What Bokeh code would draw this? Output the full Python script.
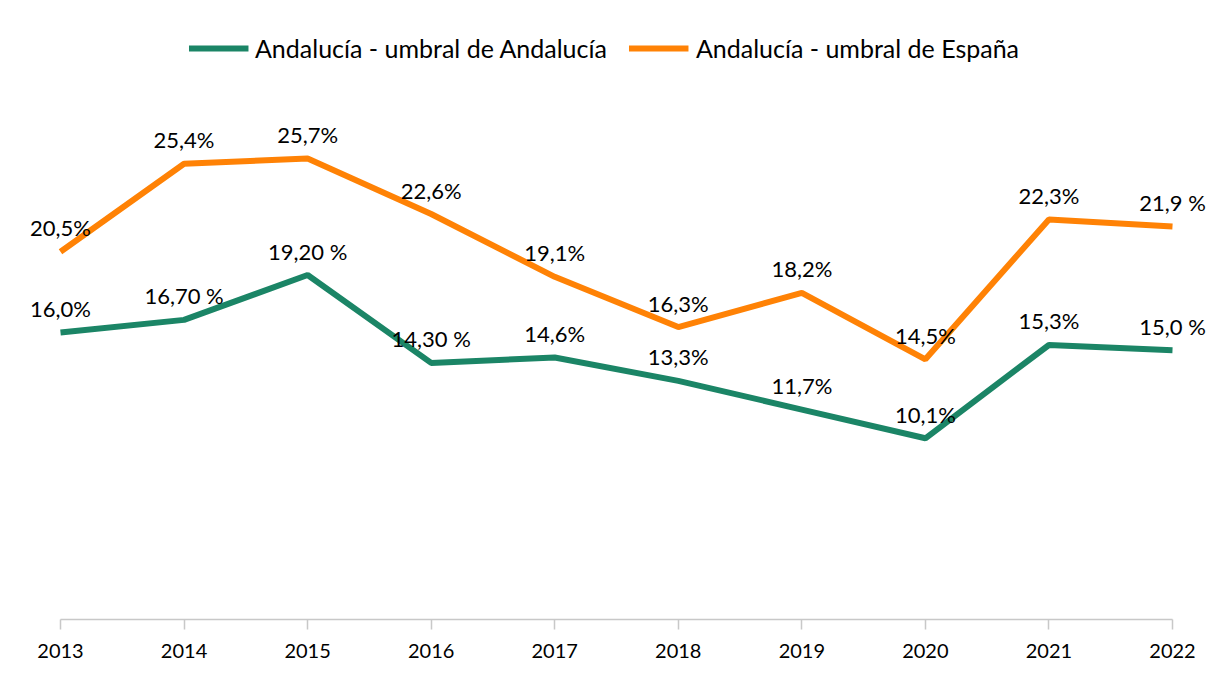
from bokeh.plotting import figure
from bokeh.models import ColumnDataSource, Range1d, Legend, LegendItem, FixedTicker
from bokeh.core.properties import value
from bokeh.embed import file_html
from bokeh.resources import INLINE

years = [2013, 2014, 2015, 2016, 2017, 2018, 2019, 2020, 2021, 2022]
andalucia_umbral_and = [16.0, 16.7, 19.2, 14.3, 14.6, 13.3, 11.7, 10.1, 15.3, 15.0]
andalucia_umbral_esp = [20.5, 25.4, 25.7, 22.6, 19.1, 16.3, 18.2, 14.5, 22.3, 21.9]
labels_and = ["16,0%", "16,70 %", "19,20 %", "14,30 %", "14,6%", "13,3%", "11,7%", "10,1%", "15,3%", "15,0 %"]
labels_esp = ["20,5%", "25,4%", "25,7%", "22,6%", "19,1%", "16,3%", "18,2%", "14,5%", "22,3%", "21,9 %"]
series_names = ["Andalucía - umbral de Andalucía", "Andalucía - umbral de España"]

FONT = "Lato"
GREEN = "#1b8566"
ORANGE = "#ff8205"

src_and = ColumnDataSource(dict(x=years, y=andalucia_umbral_and, t=labels_and))
src_esp = ColumnDataSource(dict(x=years, y=andalucia_umbral_esp, t=labels_esp))

p = figure(width=1207, height=675, output_backend="svg", toolbar_location=None,
           x_range=Range1d(2012.5144, 2022.2833), y_range=Range1d(0, 34.5),
           y_axis_location=None, min_border_left=0, min_border_right=0,
           min_border_top=0, min_border_bottom=56)
p.background_fill_color = "white"
p.border_fill_color = "white"
p.outline_line_color = None
p.grid.visible = False

r_and = p.line("x", "y", source=src_and, line_color=GREEN, line_width=6)
r_esp = p.line("x", "y", source=src_esp, line_color=ORANGE, line_width=6)

for src in (src_and, src_esp):
    p.text("x", "y", text="t", source=src, text_font=value(FONT), text_font_size="22px",
           text_color="black", text_align="center", text_baseline="middle", y_offset=-24)

ax = p.xaxis[0]
ax.ticker = FixedTicker(ticks=years)
ax.bounds = (2013, 2022)
ax.axis_line_color = "#c8c8c8"
ax.axis_line_width = 1.5
ax.major_tick_line_color = "#c8c8c8"
ax.major_tick_line_width = 1.5
ax.major_tick_in = 0
ax.major_tick_out = 10
ax.minor_tick_line_color = None
ax.major_label_text_font = FONT
ax.major_label_text_font_size = "20px"
ax.major_label_text_color = "black"
ax.major_label_standoff = 14

legend = Legend(items=[LegendItem(label=series_names[0], renderers=[r_and]),
                       LegendItem(label=series_names[1], renderers=[r_esp])],
                orientation="horizontal", location="top_center")
legend.label_text_font = FONT
legend.label_text_font_size = "25px"
legend.label_text_color = "black"
legend.glyph_width = 60
legend.label_standoff = 7
legend.spacing = 22
legend.margin = 33
legend.padding = 4
legend.border_line_color = None
legend.background_fill_alpha = 0
p.add_layout(legend)

open("out.html", "w").write(file_html(p, INLINE))
